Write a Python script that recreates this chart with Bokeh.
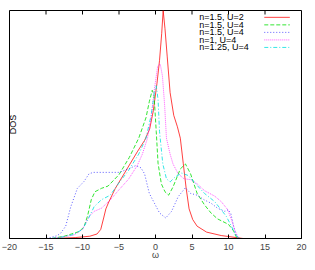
import math
from bokeh.plotting import figure
from bokeh.models import Range1d, LinearAxis, FixedTicker, Label
from bokeh.core.properties import value
from bokeh.embed import file_html
from bokeh.resources import INLINE

# ---- data ----
red_w = [-14, -11, -9, -8, -7.5, -7.1, -6.8, -6.4, -5.5, -4, -2.5, -1.5, -0.8, -0.3, 0.2, 0.55, 0.85, 1.05, 1.3, 1.6, 2.0, 2.5, 3.0, 3.4, 3.8, 4.2, 4.6, 5.1, 5.7, 7, 9, 12]
red_v = [0, 0.004, 0.01, 0.02, 0.04, 0.09, 0.13, 0.16, 0.22, 0.30, 0.38, 0.43, 0.48, 0.56, 0.68, 0.78, 0.90, 1.0, 0.92, 0.80, 0.64, 0.54, 0.49, 0.44, 0.33, 0.22, 0.13, 0.083, 0.054, 0.028, 0.013, 0]

green_w = [-14.2, -12.5, -11.5, -10.5, -9.8, -9.3, -8.8, -8.3, -7.4, -6.5, -5, -3.6, -2.3, -1.3, -0.85, -0.45, -0.2, 0.1, 0.35, 0.8, 1.3, 1.8, 2.4, 3.4, 4.1, 4.8, 5.7, 6.7, 7.6, 8.5, 10, 10.7, 11.1, 11.6]
green_v = [0, 0.01, 0.02, 0.03, 0.05, 0.10, 0.17, 0.205, 0.22, 0.23, 0.28, 0.355, 0.44, 0.53, 0.60, 0.65, 0.63, 0.47, 0.33, 0.24, 0.205, 0.19, 0.226, 0.305, 0.327, 0.284, 0.198, 0.148, 0.112, 0.086, 0.062, 0.033, 0.005, 0]

blue_w = [-14.9, -13.5, -13, -12.3, -11.6, -10.7, -9.8, -9.1, -8.5, -6.5, -5, -3.7, -2.7, -2.0, -1.5, -0.85, -0.15, 0.55, 1.4, 2.2, 3.1, 4.1, 4.8, 5.7, 6.7, 7.6, 8.5, 9.5, 9.95, 10.3, 10.7, 11.0, 11.45]
blue_v = [0, 0.012, 0.023, 0.054, 0.14, 0.22, 0.25, 0.284, 0.29, 0.29, 0.29, 0.305, 0.32, 0.31, 0.284, 0.198, 0.155, 0.112, 0.09, 0.119, 0.183, 0.223, 0.198, 0.19, 0.169, 0.155, 0.133, 0.119, 0.126, 0.112, 0.054, 0.019, 0]

magenta_w = [-14.2, -12.5, -11.2, -10, -9.1, -8.4, -7.4, -6.2, -5.1, -3.7, -2.5, -1.8, -1.1, -0.6, -0.15, 0.3, 0.65, 0.95, 1.25, 1.5, 2.0, 2.4, 3.1, 3.9, 4.8, 5.7, 6.7, 8.1, 9.0, 9.9, 10.4, 10.9, 11.4]
magenta_v = [0, 0.008, 0.015, 0.04, 0.097, 0.119, 0.133, 0.169, 0.21, 0.26, 0.32, 0.37, 0.44, 0.527, 0.656, 0.756, 0.765, 0.713, 0.585, 0.44, 0.37, 0.327, 0.284, 0.262, 0.258, 0.24, 0.21, 0.186, 0.162, 0.126, 0.083, 0.033, 0]

cyan_w = [-14.2, -12.5, -11.2, -10, -9.15, -8.4, -7.4, -6.2, -5.1, -3.7, -2.3, -1.3, -0.6, -0.15, 0.1, 0.35, 0.55, 1.0, 1.5, 2.0, 2.7, 3.6, 4.5, 5.7, 6.7, 8.1, 9.0, 9.7, 10.4, 10.9, 11.4]
cyan_v = [0, 0.008, 0.018, 0.04, 0.09, 0.14, 0.17, 0.19, 0.24, 0.298, 0.37, 0.44, 0.54, 0.64, 0.67, 0.61, 0.47, 0.327, 0.262, 0.248, 0.27, 0.287, 0.276, 0.233, 0.198, 0.162, 0.126, 0.097, 0.054, 0.019, 0]

labels = ["n=1.5, U=2", "n=1.5, U=4", "n=1.5, U=4", "n=1, U=4", "n=1.25, U=4"]
x_ticks = [-20, -15, -10, -5, 0, 5, 10, 15, 20]

series = [
    (red_w, red_v, "#ff0000", 0.75, "solid"),
    (green_w, green_v, "#00e000", 0.8, "4 2"),
    (blue_w, blue_v, "#0000ff", 0.65, "1 2"),
    (magenta_w, magenta_v, "#ff00ff", 0.65, "1 1"),
    (cyan_w, cyan_v, "#00e0e0", 0.8, "4 2 1 2"),
]

FONT = "Liberation Sans"

p = figure(width=307, height=262, output_backend="svg", toolbar_location=None,
           x_range=Range1d(-20, 20), y_range=Range1d(0, 1.0),
           x_axis_location=None, y_axis_location=None,
           min_border_left=9, min_border_right=6, min_border_top=10, min_border_bottom=0)
p.grid.visible = False
p.outline_line_color = "black"
p.outline_line_alpha = 1
p.background_fill_color = "white"
p.border_fill_color = "white"

ticker = FixedTicker(ticks=x_ticks)
bottom = LinearAxis(ticker=ticker, axis_label="ω")
bottom.major_tick_in = 4
bottom.major_tick_out = 0
bottom.minor_tick_line_color = None
bottom.major_label_text_font = FONT
bottom.major_label_text_font_size = "9px"
bottom.major_label_standoff = 5
bottom.axis_label_text_font = FONT
bottom.axis_label_text_font_size = "9px"
bottom.axis_label_text_font_style = "normal"
bottom.axis_label_standoff = -3
bottom.axis_line_color = "black"
p.add_layout(bottom, "below")

# y label drawn at the far left (gnuplot draws it close to the page edge)
p.add_layout(Label(x=3, y=0.5, x_units="screen", y_units="data", text="DOS",
                   angle=math.pi / 2, text_align="center", text_baseline="middle",
                   text_font=FONT, text_font_size="9px", text_color="black"))

# mirrored tick marks on the top border
p.ray(x=x_ticks, y=[1.0] * len(x_ticks), length=4, length_units="screen",
      angle=-math.pi / 2, line_color="black", line_width=1)

for (w, v, c, a, d) in series:
    p.line(w, v, line_color=c, line_alpha=a, line_width=1, line_dash=d)

# legend (gnuplot style: label then sample)
leg_x_text = 6.0
leg_x0, leg_x1 = 14.9, 18.4
leg_y0, leg_dy = 0.970, 0.0330
for i, ((w, v, c, a, d), lab) in enumerate(zip(series, labels)):
    yy = leg_y0 - i * leg_dy
    p.text(x=[leg_x_text], y=[yy], text=[lab], text_font=value(FONT),
           text_font_size="9px", text_baseline="middle", text_align="left",
           text_color="black")
    p.line([leg_x0, leg_x1], [yy, yy], line_color=c, line_alpha=a, line_width=1, line_dash=d)

open("out.html", "w").write(file_html(p, INLINE))
